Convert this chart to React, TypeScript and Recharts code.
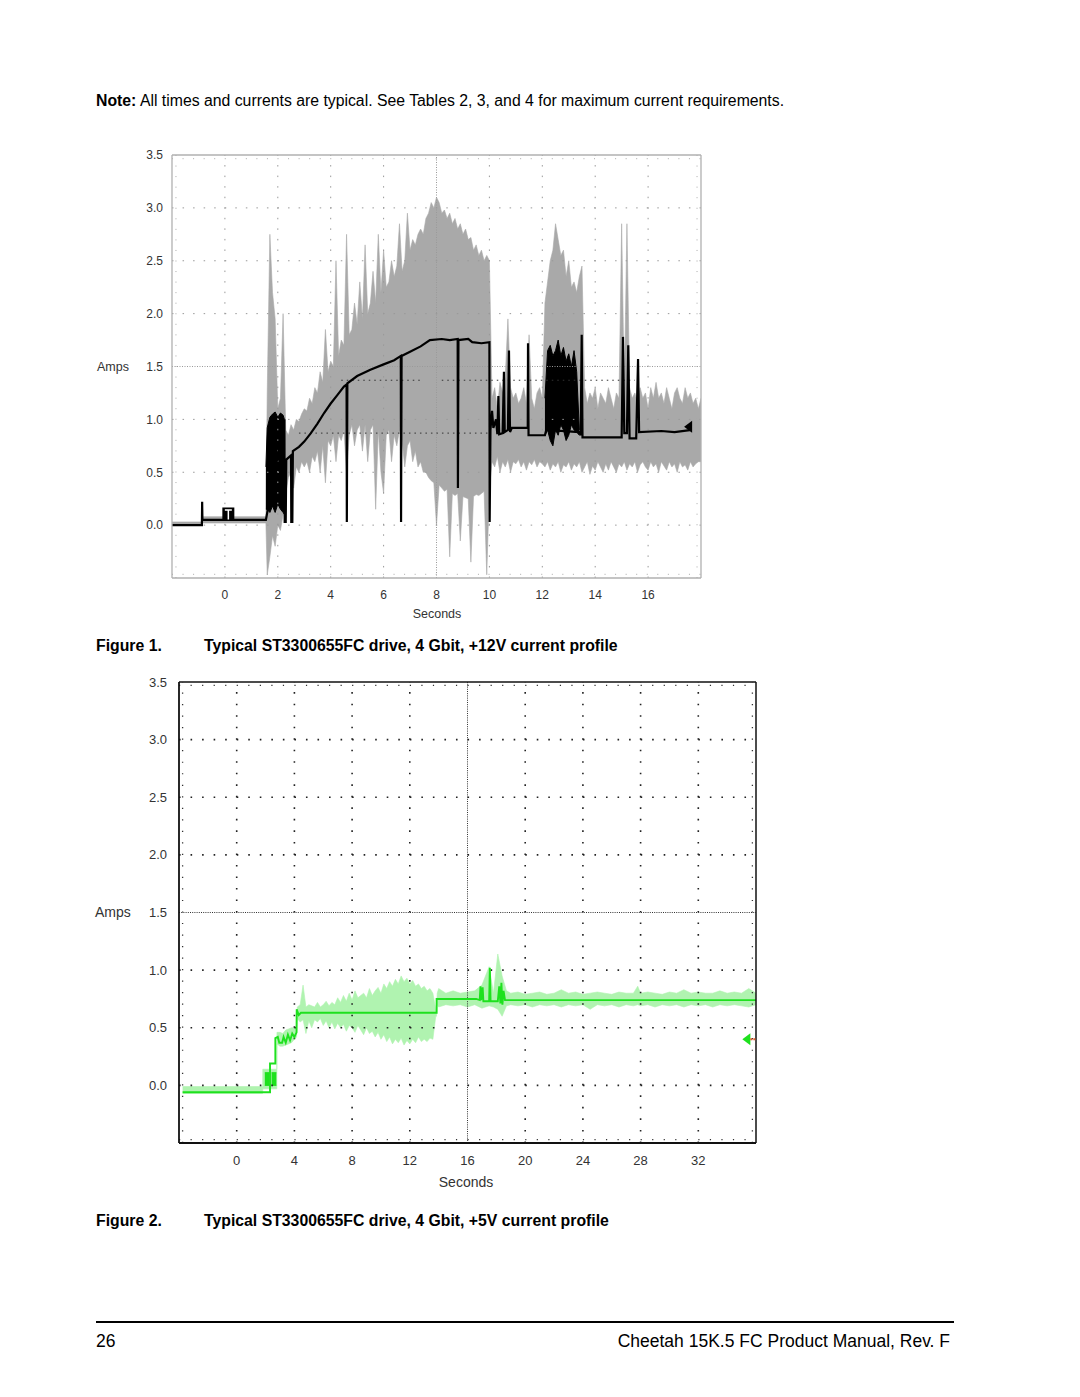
import React from 'react';
import { ComposedChart, Area, Line, Scatter, XAxis, YAxis, ReferenceLine } from 'recharts';

const FONT = '"Liberation Sans", Arial, Helvetica, sans-serif';

// ---------- shared axis values ----------
const Y_TICKS = [0, 0.5, 1, 1.5, 2, 2.5, 3, 3.5];
const Y_GRID = [0, 0.5, 1, 2, 2.5, 3]; // 1.5 is the centre line

// ---------- Figure 1: +12V ----------
const X12_TICKS = [0, 2, 4, 6, 8, 10, 12, 14, 16];
const X12_GRID = [0, 2, 4, 6, 10, 12, 14, 16]; // 8 is the centre line

// grey envelope before spin-up: [t, low, high]
const GRAY12_PRE = [
  [-2, 0, 0.03], [-0.87, 0, 0.03], [-0.86, 0.02, 0.08], [1.55, 0.02, 0.08],
];
// grey envelope sampled every 0.1 s from 1.6 s to 18.0 s
const GRAY12_T0 = 1.6;
const GRAY12_HI = [
  1.25, 2.75, 2.2, 1.95, 1.1, 1.2, 2.0, 0.9, 0.85, 0.95,
  0.9, 1.0, 0.98, 1.05, 1.1, 1.08, 1.2, 1.15, 1.3, 1.25,
  1.45, 1.35, 1.85, 1.45, 1.55, 1.5, 2.5, 1.6, 1.75, 1.7,
  2.75, 1.8, 1.85, 2.1, 1.9, 2.3, 1.95, 2.65, 2.0, 2.1,
  2.4, 2.1, 2.75, 2.2, 2.6, 2.25, 2.3, 2.5, 2.35, 2.45,
  2.85, 2.4, 2.5, 2.95, 2.6, 2.7, 2.65, 2.75, 2.8, 2.75,
  2.9, 2.95, 3.05, 3.0, 3.1, 3.05, 2.95, 2.98, 2.9, 2.95,
  2.85, 2.9, 2.8, 2.85, 2.75, 2.8, 2.7, 2.72, 2.6, 2.65,
  2.55, 2.6, 2.5, 2.55, 2.5, 1.2, 1.3, 1.1, 1.35, 1.25,
  1.4, 1.95, 1.3, 1.2, 1.25, 1.15, 1.2, 1.3, 1.15, 1.8,
  1.2, 1.1, 1.25, 1.3, 1.2, 2.1, 2.3, 2.5, 2.6, 2.85,
  2.7, 2.55, 2.6, 2.35, 2.5, 2.25, 2.3, 2.2, 2.35, 2.45,
  1.3, 1.15, 1.25, 1.2, 1.3, 1.1, 1.25, 1.2, 1.15, 1.3,
  1.2, 1.1, 1.25, 1.2, 2.85, 1.25, 2.85, 1.3, 1.2, 1.25,
  1.15, 1.3, 1.2, 1.25, 1.1, 1.3, 1.2, 1.35, 1.2, 1.25,
  1.15, 1.3, 1.2, 1.1, 1.25, 1.3, 1.2, 1.15, 1.3, 1.2,
  1.25, 1.15, 1.2, 1.1, 1.2,
];
const GRAY12_LO = [
  -0.47, -0.3, -0.1, -0.2, 0.0, -0.05, 0.1, 0.3, 0.45, 0.5,
  0.35, 0.55, 0.5, 0.6, 0.55, 0.6, 0.5, 0.65, 0.6, 0.7,
  0.5, 0.75, 0.4, 0.8, 0.75, 0.85, 0.6, 0.85, 0.8, 0.9,
  0.5, 0.85, 0.95, 0.75, 0.9, 0.95, 0.7, 0.95, 0.6, 0.9,
  0.95, 0.15, 0.9, 0.5, 0.3, 0.85, 0.9, 0.6, 0.85, 0.75,
  0.9, 0.8, 0.55, 0.75, 0.8, 0.6, 0.7, 0.55, 0.6, 0.5,
  0.5, 0.45, 0.42, 0.4, 0.0, 0.38, 0.35, 0.32, 0.34, -0.3,
  0.3, 0.28, 0.3, -0.15, 0.27, 0.26, 0.25, -0.35, 0.27, 0.29,
  0.28, 0.3, 0.32, -0.47, 0.35, 0.6, 0.55, 0.65, 0.5, 0.6,
  0.55, 0.62, 0.5, 0.6, 0.58, 0.62, 0.55, 0.6, 0.52, 0.6,
  0.57, 0.62, 0.55, 0.6, 0.58, 0.55, 0.6, 0.52, 0.58, 0.55,
  0.6, 0.5, 0.57, 0.55, 0.6, 0.52, 0.58, 0.55, 0.6, 0.5,
  0.55, 0.6, 0.48, 0.56, 0.52, 0.6, 0.55, 0.5, 0.58, 0.52,
  0.6, 0.55, 0.5, 0.58, 0.55, 0.6, 0.52, 0.58, 0.55, 0.6,
  0.5, 0.57, 0.6, 0.55, 0.52, 0.6, 0.55, 0.58, 0.5, 0.6,
  0.56, 0.52, 0.6, 0.55, 0.58, 0.5, 0.6, 0.55, 0.57, 0.52,
  0.6, 0.55, 0.58, 0.6, 0.6,
];

// dense black bursts: [t, low, high]
const BLOCK12_B = [
  [1.55, 0.15, 0.55], [1.6, 0.15, 0.92], [1.7, 0.12, 1.02], [1.8, 0.18, 1.05], [1.9, 0.12, 1.07],
  [2.0, 0.2, 1.02], [2.1, 0.15, 1.06], [2.2, 0.12, 1.04], [2.25, 0.1, 1.0],
];
const BLOCK12_C = [
  [12.1, 0.85, 1.2], [12.2, 0.9, 1.65], [12.3, 0.8, 1.7], [12.4, 0.75, 1.6], [12.5, 0.9, 1.65],
  [12.6, 0.85, 1.75], [12.7, 0.95, 1.6], [12.8, 0.9, 1.68], [12.9, 0.8, 1.55], [13.0, 0.85, 1.62],
  [13.1, 0.95, 1.5], [13.2, 0.9, 1.65], [13.3, 0.88, 1.45], [13.4, 0.85, 0.9],
];

// black averaged trace: [t, amps]
const BLACK12 = [
  [-2, 0.0], [-0.87, 0.0], [-0.86, 0.22], [-0.85, 0.05], [1.55, 0.05],
  [2.25, 1.0], [2.26, 0.03], [2.3, 0.03], [2.32, 0.62], [2.5, 0.66], [2.51, 0.03], [2.55, 0.03],
  [2.57, 0.7], [2.8, 0.74], [3.0, 0.79], [3.25, 0.87], [3.5, 0.96], [3.75, 1.06], [4.0, 1.15],
  [4.25, 1.23], [4.5, 1.31], [4.6, 1.33], [4.61, 0.03], [4.63, 1.34], [5.0, 1.41], [5.5, 1.47],
  [6.0, 1.52], [6.4, 1.56], [6.65, 1.6], [6.66, 0.03], [6.68, 1.6], [7.0, 1.64], [7.4, 1.69],
  [7.75, 1.75], [8.2, 1.76], [8.5, 1.75], [8.8, 1.76], [8.81, 0.35], [8.83, 1.75], [9.2, 1.76],
  [9.35, 1.73], [9.7, 1.72], [10.0, 1.73], [10.01, 0.03], [10.04, 0.9], [10.1, 1.08], [10.15, 0.92],
  [10.25, 1.0], [10.3, 0.86], [10.34, 1.22], [10.37, 0.86], [10.5, 0.87], [10.55, 1.45], [10.58, 0.88],
  [10.7, 0.9], [10.74, 1.65], [10.78, 0.88], [10.85, 0.92], [11.45, 0.92], [11.46, 1.72], [11.48, 0.85],
  [12.1, 0.85], [12.15, 0.9], [13.4, 0.88], [13.45, 0.85], [13.49, 1.8], [13.52, 0.83], [15.0, 0.83],
  [15.05, 1.78], [15.1, 0.87], [15.2, 0.87], [15.25, 1.7], [15.3, 0.82], [15.55, 0.82], [15.62, 1.57],
  [15.66, 0.88], [16.5, 0.89], [17.0, 0.88], [17.65, 0.9],
];
const TRIGGER12 = [[0.13, 0.11]];
const ARROW12 = [[17.55, 0.93]];
// dark dotted cursor lines showing through the trace: [t from, t to, amps]
const OVERLAY12 = [[4.4, 7.5, 1.37], [8.2, 15.5, 1.37], [2.8, 10.0, 0.87]];

// ---------- Figure 2: +5V ----------
const X5_TICKS = [0, 4, 8, 12, 16, 20, 24, 28, 32];
const X5_GRID = [0, 4, 8, 12, 20, 24, 28, 32]; // 16 is the centre line

// pale green envelope: [t, low, high]
const GREEN_BAND = [
  [-3.75, -0.07, -0.01], [1.8, -0.07, -0.01], [1.81, -0.03, 0.14], [2.78, -0.03, 0.14],
  [2.79, 0.36, 0.46], [3.0, 0.34, 0.46], [3.2, 0.34, 0.45], [3.4, 0.35, 0.48], [3.6, 0.36, 0.49],
  [3.8, 0.37, 0.5], [4.0, 0.4, 0.5], [4.15, 0.42, 0.52], [4.2, 0.58, 0.68], [4.4, 0.55, 0.7],
  [4.6, 0.57, 0.87], [4.8, 0.45, 0.68], [5.0, 0.56, 0.7], [5.2, 0.5, 0.69], [5.4, 0.57, 0.68],
  [5.6, 0.55, 0.72], [5.8, 0.58, 0.68], [6.0, 0.52, 0.7], [6.2, 0.56, 0.73], [6.4, 0.5, 0.69],
  [6.6, 0.55, 0.72], [6.8, 0.49, 0.7], [7.0, 0.54, 0.76], [7.2, 0.5, 0.72], [7.4, 0.53, 0.78],
  [7.6, 0.47, 0.73], [7.8, 0.52, 0.8], [8.0, 0.5, 0.74], [8.2, 0.46, 0.82], [8.4, 0.52, 0.76],
  [8.6, 0.48, 0.78], [8.8, 0.44, 0.8], [9.0, 0.5, 0.76], [9.2, 0.45, 0.84], [9.4, 0.47, 0.78],
  [9.6, 0.42, 0.82], [9.8, 0.46, 0.85], [10.0, 0.4, 0.8], [10.2, 0.44, 0.88], [10.4, 0.38, 0.84],
  [10.6, 0.42, 0.9], [10.8, 0.36, 0.86], [11.0, 0.4, 0.92], [11.2, 0.37, 0.88], [11.4, 0.41, 0.95],
  [11.6, 0.35, 0.9], [11.8, 0.39, 0.93], [12.0, 0.36, 0.88], [12.2, 0.4, 0.91], [12.4, 0.37, 0.86],
  [12.6, 0.42, 0.88], [12.8, 0.38, 0.84], [13.0, 0.4, 0.86], [13.2, 0.38, 0.82], [13.4, 0.41, 0.84],
  [13.6, 0.4, 0.8], [13.8, 0.6, 0.66], [13.85, 0.6, 0.66], [13.9, 0.7, 0.8], [14.0, 0.68, 0.84],
  [14.5, 0.7, 0.8], [15.0, 0.69, 0.82], [15.5, 0.7, 0.8], [16.0, 0.68, 0.81], [16.5, 0.7, 0.82],
  [17.0, 0.67, 0.87], [17.5, 0.69, 1.03], [17.8, 0.68, 0.8], [18.1, 0.66, 1.14], [18.4, 0.6, 0.95],
  [18.7, 0.69, 0.82], [19.0, 0.7, 0.8], [19.5, 0.69, 0.81], [20.0, 0.7, 0.79], [20.5, 0.68, 0.8],
  [21.0, 0.7, 0.81], [21.5, 0.69, 0.79], [22.0, 0.7, 0.8], [22.5, 0.68, 0.83], [23.0, 0.7, 0.8],
  [23.5, 0.69, 0.81], [24.0, 0.7, 0.79], [24.5, 0.66, 0.8], [25.0, 0.7, 0.81], [25.5, 0.69, 0.8],
  [26.0, 0.7, 0.79], [26.5, 0.68, 0.81], [27.0, 0.7, 0.8], [27.5, 0.69, 0.8], [27.8, 0.7, 0.86],
  [28.0, 0.69, 0.8], [28.5, 0.7, 0.81], [29.0, 0.68, 0.8], [29.5, 0.7, 0.79], [30.0, 0.69, 0.81],
  [30.5, 0.7, 0.8], [31.0, 0.68, 0.83], [31.5, 0.7, 0.8], [32.0, 0.69, 0.81], [32.5, 0.7, 0.8],
  [33.0, 0.68, 0.8], [33.5, 0.7, 0.82], [34.0, 0.69, 0.8], [34.5, 0.7, 0.81], [35.0, 0.69, 0.8],
  [35.5, 0.68, 0.84], [36.0, 0.7, 0.8],
];
// bright green trace: [t, amps]
const GREEN_LINE = [
  [-3.75, -0.06], [2.31, -0.06], [2.31, 0.19], [2.68, 0.19], [2.68, 0.41], [2.85, 0.42], [2.95, 0.37],
  [3.15, 0.37], [3.25, 0.42], [3.4, 0.37], [3.55, 0.44], [3.7, 0.39], [3.85, 0.45], [4.0, 0.42],
  [4.15, 0.46], [4.16, 0.66], [4.3, 0.61], [4.45, 0.63], [13.86, 0.63], [13.86, 0.75], [16.6, 0.75],
  [16.85, 0.74], [16.9, 0.86], [16.95, 0.74], [17.05, 0.85], [17.1, 0.73], [17.5, 0.73], [17.55, 1.02],
  [17.6, 0.73], [18.1, 0.73], [18.2, 0.86], [18.28, 0.71], [18.35, 0.89], [18.42, 0.7], [18.5, 0.82],
  [18.6, 0.74], [36.0, 0.74],
];
const GREEN_BLOCK_A = [[1.95, 0.0, 0.11], [2.28, 0.0, 0.11]];
const GREEN_BLOCK_B = [[2.42, 0.0, 0.11], [2.75, 0.0, 0.11]];
const ARROW5 = [[35.4, 0.4]];

// ---------- helpers ----------
const bandRows = (list: number[][]) => list.map(([t, lo, hi]) => ({ t, band: [lo, hi] }));
const pointRows = (list: number[][]) => list.map(([t, v]) => ({ t, v }));

const gray12 = [
  ...bandRows(GRAY12_PRE),
  ...GRAY12_HI.map((hi, i) => ({ t: Math.round((GRAY12_T0 + i * 0.1) * 10) / 10, band: [GRAY12_LO[i], hi] })),
];

const ArrowMark = (color: string, tail?: string) => (props: any) => {
  const { cx, cy } = props;
  return (
    <g>
      <path d={`M${cx - 5},${cy} L${cx + 3},${cy - 6} L${cx + 3},${cy + 6} Z`} fill={color} />
      {tail && <line x1={cx + 3} y1={cy} x2={cx + 12} y2={cy} stroke={tail} strokeWidth={2} strokeDasharray="2 1" />}
    </g>
  );
};

// scope trigger marker: black box with a white "T"
const TriggerMark = (props: any) => {
  const { cx, cy } = props;
  return (
    <g>
      <rect x={cx - 6} y={cy - 6} width={12} height={12} fill="#000" />
      <line x1={cx - 3.5} y1={cy - 3.5} x2={cx + 3.5} y2={cy - 3.5} stroke="#fff" strokeWidth={1.5} />
      <line x1={cx} y1={cy - 3.5} x2={cx} y2={cy + 6} stroke="#fff" strokeWidth={1.5} />
    </g>
  );
};

function Chart12() {
  const tick = { fill: '#333', fontSize: 12, fontFamily: FONT };
  return (
    <div style={{ position: 'absolute', left: 90, top: 140 }}>
      <ComposedChart width={620} height={470} margin={{ top: 15, right: 9, bottom: 0, left: 0 }}>
        <XAxis type="number" dataKey="t" domain={[-2, 18]} ticks={X12_TICKS} interval={0} allowDataOverflow
          height={32} tickSize={0} tickMargin={12} axisLine={false} tickLine={false} tick={tick} />
        <YAxis type="number" domain={[-0.5, 3.5]} ticks={Y_TICKS} interval={0} allowDataOverflow
          width={82} tickSize={0} tickMargin={9} axisLine={false} tickLine={false} tick={tick}
          tickFormatter={(v: number) => v.toFixed(1)} />

        {Y_GRID.map((v) => (
          <ReferenceLine key={'y' + v} y={v} stroke="#999" strokeWidth={1} strokeDasharray="1.5 9.05" />
        ))}
        {X12_GRID.map((t) => (
          <ReferenceLine key={'x' + t} x={t} stroke="#999" strokeWidth={1} strokeDasharray="1.5 9.05" />
        ))}
        <ReferenceLine y={1.5} stroke="#999" strokeDasharray="1 1.5" />
        <ReferenceLine x={8} stroke="#999" strokeDasharray="1 1.5" />
        <ReferenceLine x={-1.85} stroke="#aaa" strokeDasharray="1 9.55" />
        <ReferenceLine x={17.85} stroke="#aaa" strokeDasharray="1 9.55" />
        <ReferenceLine y={-0.465} stroke="#aaa" strokeDasharray="1 9.55" />
        <ReferenceLine y={3.465} stroke="#aaa" strokeDasharray="1 9.55" />

        <Area data={gray12} dataKey="band" type="linear" fill="#a9a9a9" fillOpacity={1}
          stroke="#a9a9a9" strokeWidth={0.6} isAnimationActive={false} />
        {[BLOCK12_B, BLOCK12_C].map((b, i) => (
          <Area key={'b' + i} data={bandRows(b)} dataKey="band" type="linear" fill="#000" fillOpacity={1}
            stroke="#000" strokeWidth={1} isAnimationActive={false} />
        ))}
        {OVERLAY12.map(([a, b, v], i) => (
          <ReferenceLine key={'o' + i} segment={[{ x: a, y: v }, { x: b, y: v }]} stroke="#333"
            strokeWidth={1} strokeDasharray="1.5 4" />
        ))}
        <Line data={pointRows(BLACK12)} dataKey="v" type="linear" stroke="#000" strokeWidth={2.2}
          dot={false} isAnimationActive={false} />
        <Scatter data={pointRows(TRIGGER12)} dataKey="v" shape={TriggerMark} isAnimationActive={false} />
        <Scatter data={pointRows(ARROW12)} dataKey="v" shape={ArrowMark('#000')} isAnimationActive={false} />

        <ReferenceLine x={-2} stroke="#b0b0b0" strokeWidth={1.3} />
        <ReferenceLine x={18} stroke="#b0b0b0" strokeWidth={1.3} />
        <ReferenceLine y={-0.5} stroke="#b0b0b0" strokeWidth={1.3} />
        <ReferenceLine y={3.5} stroke="#b0b0b0" strokeWidth={1.3} />
      </ComposedChart>
    </div>
  );
}

function Chart5() {
  const tick = { fill: '#333', fontSize: 13, fontFamily: FONT };
  return (
    <div style={{ position: 'absolute', left: 90, top: 667 }}>
      <ComposedChart width={676} height={506} margin={{ top: 15, right: 10, bottom: 0, left: 0 }}>
        <XAxis type="number" dataKey="t" domain={[-4, 36]} ticks={X5_TICKS} interval={0} allowDataOverflow
          height={30} tickSize={0} tickMargin={13} axisLine={false} tickLine={false} tick={tick} />
        <YAxis type="number" domain={[-0.5, 3.5]} ticks={Y_TICKS} interval={0} allowDataOverflow
          width={89} tickSize={0} tickMargin={12} axisLine={false} tickLine={false} tick={tick}
          tickFormatter={(v: number) => v.toFixed(1)} />

        {Y_GRID.map((v) => (
          <ReferenceLine key={'y' + v} y={v} stroke="#222" strokeWidth={1.6} strokeDasharray="1.6 9.94" />
        ))}
        {X5_GRID.map((t) => (
          <ReferenceLine key={'x' + t} x={t} stroke="#222" strokeWidth={1.6} strokeDasharray="1.6 9.92" />
        ))}
        <ReferenceLine y={1.5} stroke="#333" strokeDasharray="1 1.2" />
        <ReferenceLine x={16} stroke="#333" strokeDasharray="1 1.2" />
        <ReferenceLine x={-3.75} stroke="#333" strokeWidth={1.3} strokeDasharray="1.2 10.32" />
        <ReferenceLine x={35.75} stroke="#333" strokeWidth={1.3} strokeDasharray="1.2 10.32" />
        <ReferenceLine y={-0.47} stroke="#333" strokeWidth={1.3} strokeDasharray="1.2 10.34" />
        <ReferenceLine y={3.47} stroke="#333" strokeWidth={1.3} strokeDasharray="1.2 10.34" />

        <Area data={bandRows(GREEN_BAND)} dataKey="band" type="linear" fill="#b0f3b0" fillOpacity={1}
          stroke="#b0f3b0" strokeWidth={0.6} isAnimationActive={false} />
        {[GREEN_BLOCK_A, GREEN_BLOCK_B].map((b, i) => (
          <Area key={'g' + i} data={bandRows(b)} dataKey="band" type="linear" fill="#1ee11e" fillOpacity={1}
            stroke="#1ee11e" strokeWidth={1} isAnimationActive={false} />
        ))}
        <Line data={pointRows(GREEN_LINE)} dataKey="v" type="linear" stroke="#1ee11e" strokeWidth={1.9}
          dot={false} isAnimationActive={false} />
        <Scatter data={pointRows(ARROW5)} dataKey="v" shape={ArrowMark('#1ee11e', '#e05a2a')} isAnimationActive={false} />

        <ReferenceLine x={-4} stroke="#111" strokeWidth={1.8} />
        <ReferenceLine x={36} stroke="#111" strokeWidth={1.5} />
        <ReferenceLine y={-0.5} stroke="#111" strokeWidth={1.8} />
        <ReferenceLine y={3.5} stroke="#111" strokeWidth={1.5} />
      </ComposedChart>
    </div>
  );
}

function Caption({ top, num, text }: { top: number; num: string; text: string }) {
  return (
    <div style={{ position: 'absolute', left: 96, top, fontSize: 15.8, lineHeight: '18px', fontWeight: 'bold', whiteSpace: 'nowrap' }}>
      <span>{num}</span>
      <span style={{ position: 'absolute', left: 108 }}>{text}</span>
    </div>
  );
}

const axisTitle = (left: number, top: number, size: number, text: string, center?: boolean) => (
  <div style={{
    position: 'absolute', left, top, fontSize: size, lineHeight: '16px', color: '#333',
    transform: center ? 'translateX(-50%)' : undefined, whiteSpace: 'nowrap',
  }}>{text}</div>
);

export default function App() {
  return (
    <div style={{ position: 'absolute', left: 0, top: 0, width: 1080, height: 1397, background: '#fff', fontFamily: FONT, color: '#000', overflow: 'hidden' }}>
      <div style={{ position: 'absolute', left: 96, top: 92, fontSize: 15.8, lineHeight: '18px', whiteSpace: 'nowrap' }}>
        <b>Note:</b> All times and currents are typical. See Tables 2, 3, and 4 for maximum current requirements.
      </div>

      <Chart12 />
      {axisTitle(97, 359, 12.5, 'Amps')}
      {axisTitle(437, 606, 12.5, 'Seconds', true)}
      <Caption top={637} num="Figure 1." text="Typical ST3300655FC drive, 4 Gbit, +12V current profile" />

      <Chart5 />
      {axisTitle(95, 904, 14, 'Amps')}
      {axisTitle(466, 1174, 14, 'Seconds', true)}
      <Caption top={1212} num="Figure 2." text="Typical ST3300655FC drive, 4 Gbit, +5V current profile" />

      <div style={{ position: 'absolute', left: 96, top: 1321, width: 858, height: 2, background: '#000' }} />
      <div style={{ position: 'absolute', left: 96, top: 1331, fontSize: 17.5, lineHeight: '20px' }}>26</div>
      <div style={{ position: 'absolute', right: 130, top: 1331, fontSize: 17.5, lineHeight: '20px', whiteSpace: 'nowrap' }}>
        Cheetah 15K.5 FC Product Manual, Rev. F
      </div>
    </div>
  );
}
